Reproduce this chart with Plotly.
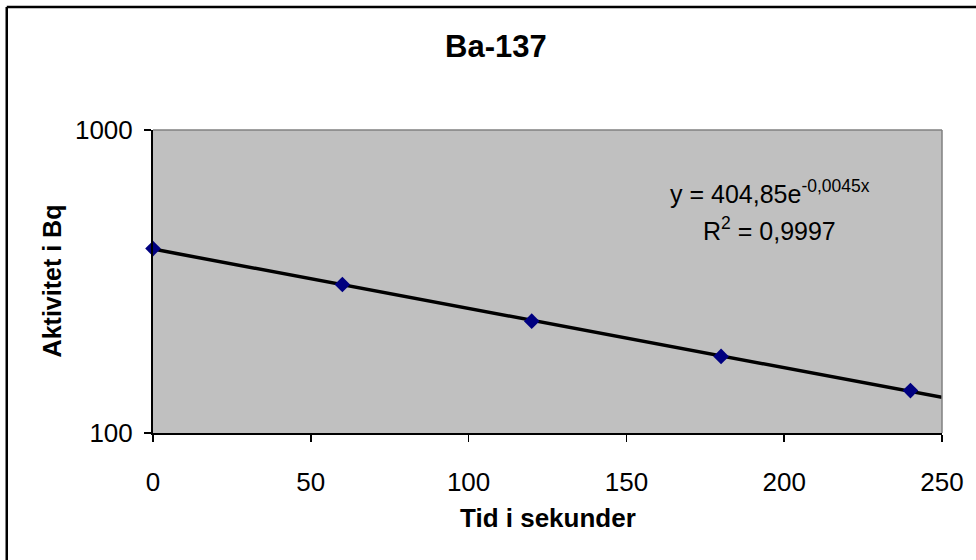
import numpy as np
import plotly.graph_objects as go

# ---- data ----
time_s = [0, 60, 120, 180, 240]
activity_bq = [406, 309, 234, 179, 138]
x_ticks = [0, 50, 100, 150, 200, 250]
y_ticks = [100, 1000]
y_tick_labels = ["100", "1000"]
title_text = "Ba-137"
x_title = "Tid i sekunder"
y_title = "Aktivitet i Bq"
eq_text = "y = 404,85e<sup>-0,0045x</sup>"
r2_text = "R<sup>2</sup> = 0,9997"

# exponential trendline fitted to the data (log-linear least squares)
b, ln_a = np.polyfit(np.array(time_s, float), np.log(np.array(activity_bq, float)), 1)
trend_x = np.linspace(0, 250, 126)
trend_y = np.exp(ln_a) * np.exp(b * trend_x)

FONT = "Liberation Sans, Arial, Helvetica, sans-serif"

# plot-area pixel geometry
W, H = 976, 560
L, R, T, B = 153, 945, 130, 433
PW, PH = R - L, B - T


def px(xp):
    return (xp - L) / PW


def py(yp):
    return (B - yp) / PH


fig = go.Figure()
fig.add_trace(go.Scatter(
    x=trend_x, y=trend_y, mode="lines",
    line=dict(color="black", width=3.5),
    hoverinfo="skip", showlegend=False,
))
fig.add_trace(go.Scatter(
    x=time_s, y=activity_bq, mode="markers",
    marker=dict(symbol="diamond", color="#000080", size=12,
                line=dict(width=0)),
    cliponaxis=False, showlegend=False,
))

fig.update_layout(
    width=W, height=H,
    margin=dict(l=L, r=W - R, t=T, b=H - B, pad=0),
    paper_bgcolor="white",
    plot_bgcolor="#C0C0C0",
    font=dict(family=FONT, color="black", size=25),
    showlegend=False,
)
fig.update_xaxes(
    range=[0, 250], tickvals=x_ticks,
    ticks="outside", ticklen=7, tickwidth=1.5, tickcolor="black",
    showline=True, linecolor="black", linewidth=2,
    showgrid=False, zeroline=False,
    tickfont=dict(size=26, family=FONT, color="black"),
    ticklabelstandoff=18,
)
fig.update_yaxes(
    type="log", range=[2, 3], tickvals=y_ticks, ticktext=y_tick_labels,
    ticks="outside", ticklen=7, tickwidth=1.5, tickcolor="black",
    showline=True, linecolor="black", linewidth=2,
    showgrid=False, zeroline=False,
    tickfont=dict(size=26, family=FONT, color="black"),
    ticklabelstandoff=6,
)

# gray frame on top and right of the plot area
fig.add_shape(type="line", xref="x domain", yref="y domain",
              x0=0, x1=1, y0=1, y1=1, line=dict(color="#808080", width=1.5))
fig.add_shape(type="line", xref="x domain", yref="y domain",
              x0=1, x1=1, y0=0, y1=1, line=dict(color="#808080", width=1.5))

# outer chart border (left and top visible)
fig.add_shape(type="line", xref="paper", yref="paper",
              x0=px(6.2), x1=px(6.2), y0=py(7), y1=py(600),
              line=dict(color="black", width=2.5))
fig.add_shape(type="line", xref="paper", yref="paper",
              x0=px(6.2), x1=px(1000), y0=py(7), y1=py(7),
              line=dict(color="black", width=2.5))

# titles
fig.add_annotation(text=f"<b>{title_text}</b>", xref="paper", yref="paper",
                   x=px(497), y=py(47), xanchor="center", yanchor="middle",
                   showarrow=False, font=dict(size=31, family=FONT, color="black"))
fig.add_annotation(text=f"<b>{x_title}</b>", xref="paper", yref="paper",
                   x=px(549), y=py(518), xanchor="center", yanchor="middle",
                   showarrow=False, font=dict(size=26, family=FONT, color="black"))
fig.add_annotation(text=f"<b>{y_title}</b>", xref="paper", yref="paper",
                   x=px(52), y=py(281), xanchor="center", yanchor="middle",
                   textangle=-90,
                   showarrow=False, font=dict(size=25, family=FONT, color="black"))

# trendline equation
fig.add_annotation(text=eq_text, xref="paper", yref="paper",
                   x=px(772), y=py(192), xanchor="center", yanchor="middle",
                   showarrow=False, font=dict(size=25, family=FONT, color="black"))
fig.add_annotation(text=r2_text, xref="paper", yref="paper",
                   x=px(772), y=py(229), xanchor="center", yanchor="middle",
                   showarrow=False, font=dict(size=25, family=FONT, color="black"))

fig.write_html(
    "out.html",
    config={"displayModeBar": False, "staticPlot": True},
    post_script="document.body.style.margin='0px';"
                "document.body.style.overflow='hidden';",
)
